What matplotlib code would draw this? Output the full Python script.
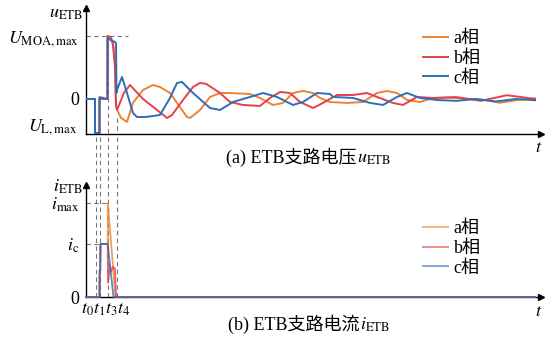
import numpy as np
import matplotlib
matplotlib.use("Agg")
import matplotlib.pyplot as plt
from matplotlib.lines import Line2D

plt.rcParams['font.family'] = ['Liberation Serif', 'Noto Sans CJK SC']
plt.rcParams['mathtext.fontset'] = 'stix'

# ── data (time in ms, values in p.u.) ────────────────────────────────────────
t_a = [0, 0.9, 0.9, 1.35, 1.35, 2.15, 2.16, 2.4, 2.7, 2.9, 3.0, 3.1, 3.5, 4.1,
       4.7, 5.7, 6.7, 7.4, 8.4, 9.1, 10.1, 10.4, 11.4, 12.4, 13.4, 14.4, 16.4,
       17.4, 18.7, 19.7, 20.7, 21.7, 22.7, 23.4, 24.4, 26.1, 27.7, 29.1, 30.1,
       31.1, 32.1, 33.4, 34.7, 36.5, 38.5, 40.0, 41.4, 43.0, 44.9]
u_a = [0, 0, -0.54, -0.54, 0, 0, 1.0, 0.98, 0.9, 0.6, -0.1, -0.17, -0.3, -0.365,
       -0.06, 0.143, 0.222, 0.19, 0.095, -0.063, -0.286, -0.302, -0.175, 0.032,
       0.095, 0.095, 0.079, 0.016, -0.095, -0.063, 0.095, 0.127, 0.095, 0.016,
       -0.048, -0.063, -0.048, 0.095, 0.127, 0.095, -0.016, -0.048, 0.016, 0.02,
       0.0, -0.02, -0.06, -0.02, 0.01]

t_b = [0, 0.9, 0.9, 1.35, 1.35, 2.15, 2.16, 2.5, 2.7, 2.9, 3.0, 3.1, 3.3, 3.8,
       4.4, 5.7, 7.1, 8.1, 8.6, 9.7, 10.7, 11.4, 12.0, 12.4, 13.4, 14.4, 15.7,
       17.4, 18.4, 19.4, 20.4, 21.4, 22.7, 23.7, 25.1, 26.7, 28.1, 29.1, 30.7,
       31.7, 33.1, 34.7, 37.0, 39.5, 42.1, 44.9]
u_b = [0, 0, -0.54, -0.54, 0, 0, 1.0, 0.98, 0.85, 0.5, -0.1, -0.17, -0.1, 0.1,
       0.222, 0.0, -0.175, -0.302, -0.254, -0.016, 0.19, 0.254, 0.24, 0.2, 0.095,
       -0.048, -0.095, -0.111, 0.016, 0.111, 0.095, -0.048, -0.143, -0.063,
       0.063, 0.063, 0.095, 0.032, -0.063, -0.095, 0.032, 0.016, 0.03, -0.03,
       0.06, 0.0]

t_c = [0, 0.9, 0.9, 1.35, 1.35, 2.15, 2.16, 2.5, 2.9, 3.0, 3.05, 3.1, 3.6, 4.1,
       4.7, 5.1, 6.0, 7.4, 8.4, 9.1, 9.6, 10.7, 12.4, 13.4, 14.7, 16.4, 17.7,
       19.1, 20.7, 21.7, 23.1, 24.4, 24.7, 26.7, 28.4, 29.7, 31.1, 32.1, 33.4,
       35.1, 37.0, 39.0, 41.0, 43.0, 44.9]
u_c = [0, 0, -0.54, -0.54, 0.03, 0, 0.97, 0.93, 0.905, 0.88, 0.1, 0.143, 0.349,
       0.095, -0.222, -0.286, -0.286, -0.254, 0.016, 0.254, 0.27, 0.095, -0.143,
       -0.175, -0.048, 0.032, 0.095, 0.032, -0.095, -0.048, 0.095, 0.079, 0.032,
       0.016, -0.063, -0.095, 0.032, 0.095, 0.016, -0.016, -0.03, 0.0, -0.04,
       0.0, -0.02]

ti_a = [0, 1.35, 1.37, 1.42, 1.45, 2.17, 2.18, 2.95, 44.9]
i_a = [0, 0, 0.28, 0.28, 0.564, 0.564, 1.0, 0.0, 0.0]
ti_b = [0, 1.35, 1.37, 1.42, 1.45, 2.17, 2.2, 2.4, 2.5, 2.7, 2.9, 3.0, 44.9]
i_b = [0, 0, 0.28, 0.28, 0.564, 0.564, 0.15, 0.33, 0.27, 0.32, 0.3, 0.0, 0.0]
ti_c = [0, 1.35, 1.37, 1.42, 1.45, 2.17, 2.75, 44.9]
i_c = [0, 0, 0.28, 0.28, 0.564, 0.564, 0.0, 0.0]

t_marks = [0.95, 1.35, 2.15, 3.05]          # t0, t1, t3, t4
U_MOA, U_L = 1.0, -0.54
I_MAX, I_C = 1.0, 0.564

phases = ["a相", "b相", "c相"]
colors = ["#EE8233", "#E5404A", "#2E6DB8"]

W, H = 546, 342
fs = 13
fig = plt.figure(figsize=(W / 100, H / 100), dpi=100)

def px(x0, y0, x1, y1):
    return [x0 / W, 1 - y1 / H, (x1 - x0) / W, (y1 - y0) / H]

ax1 = fig.add_axes(px(86, 8, 541, 134))
ax2 = fig.add_axes(px(86, 185, 541, 297))

for ax in (ax1, ax2):
    for s in ("top", "right"):
        ax.spines[s].set_visible(False)
    ax.spines["left"].set_linewidth(1.0)
    ax.spines["bottom"].set_linewidth(1.0)
    ax.set_xticks([])
    ax.tick_params(axis="y", length=0, pad=5, labelsize=fs)
    ax.plot(1, 0, ">k", ms=5, transform=ax.transAxes, clip_on=False)
    ax.plot(0, 1, "^k", ms=5, transform=ax.transAxes, clip_on=False)
    ax.set_xlim(0, 45.5)

# ── (a) voltage ──
ax1.set_ylim(-0.556, 1.444)
for t, u, c in zip([t_a, t_b, t_c], [u_a, u_b, u_c], colors):
    ax1.plot(t, u, color=c, lw=1.4, zorder=3)
ax1.set_yticks([0, U_MOA], ["0", r"$U_{\mathrm{MOA,max}}$"])
ax1.text(-0.9, U_L + 0.09, r"$U_{\mathrm{L,max}}$", ha="right", va="center",
         fontsize=fs)
ax1.plot([0, 4.2], [U_MOA, U_MOA], ls=(0, (4, 3)), color="#777777", lw=0.8)
ax1.vlines([t_marks[2], t_marks[3]], [U_L, -0.3], [U_MOA, U_L],
           ls=(0, (4, 3)), color="#777777", lw=0.8, zorder=1)
leg1 = [Line2D([], [], color=c, lw=1.4) for c in colors]
fig.legend(leg1, phases, loc="upper left", bbox_to_anchor=(423 / W, 1 - 30 / H),
           frameon=False, fontsize=fs, handlelength=1.4, handletextpad=0.3,
           labelspacing=0.16, borderpad=0, borderaxespad=0)

# ── (b) current ──
ax2.set_ylim(0, 1.191)
for t, i, c in zip([ti_a, ti_b, ti_c], [i_a, i_b, i_c], colors):
    ax2.plot(t, i, color=c, lw=1.3, alpha=0.8, zorder=3, clip_on=False)
ax2.set_yticks([0, I_C, I_MAX], ["0", r"$i_{\mathrm{c}}$", r"$i_{\mathrm{max}}$"])
ax2.plot([0, 2.2], [I_MAX, I_MAX], ls=(0, (4, 3)), color="#777777", lw=0.8)
ax2.plot([0, 1.45], [I_C, I_C], ls=(0, (4, 3)), color="#777777", lw=0.8)
ax2.vlines(t_marks, 0, 1.734, ls=(0, (4, 3)), color="#777777", lw=0.8,
           zorder=1, clip_on=False)
leg2 = [Line2D([], [], color=c, lw=1.4, alpha=0.6) for c in colors]
fig.legend(leg2, phases, loc="upper left", bbox_to_anchor=(423 / W, 1 - 220 / H),
           frameon=False, fontsize=fs, handlelength=1.4, handletextpad=0.3,
           labelspacing=0.16, borderpad=0, borderaxespad=0)

# ── labels ──
fig.text(83 / W, 1 - 13 / H, r"$u_{\mathrm{ETB}}$", ha="right", va="center", fontsize=fs)
fig.text(83 / W, 1 - 187 / H, r"$i_{\mathrm{ETB}}$", ha="right", va="center", fontsize=fs)
fig.text(539 / W, 1 - 147 / H, r"$t$", ha="center", va="center", fontsize=fs)
fig.text(539 / W, 1 - 311 / H, r"$t$", ha="center", va="center", fontsize=fs)
fig.text(106 / W, 1 - 310 / H, r"$t_0t_1t_3t_4$", ha="center", va="center", fontsize=fs)

# titles: Chinese part as plain text, symbol as mathtext right after it
fig.canvas.draw()
for x_left, y_base, label, sym in [(226, 163, "(a) ETB支路电压", r"$u_{\mathrm{ETB}}$"),
                                   (228, 330, "(b) ETB支路电流", r"$i_{\mathrm{ETB}}$")]:
    t1 = fig.text(x_left / W, 1 - y_base / H, label, ha="left", va="baseline", fontsize=fs)
    fig.canvas.draw()
    bb = t1.get_window_extent()
    fig.text(bb.x1 / W + 0.5 / W, 1 - y_base / H, sym, ha="left", va="baseline", fontsize=fs)

fig.savefig("out.png", dpi=100)
